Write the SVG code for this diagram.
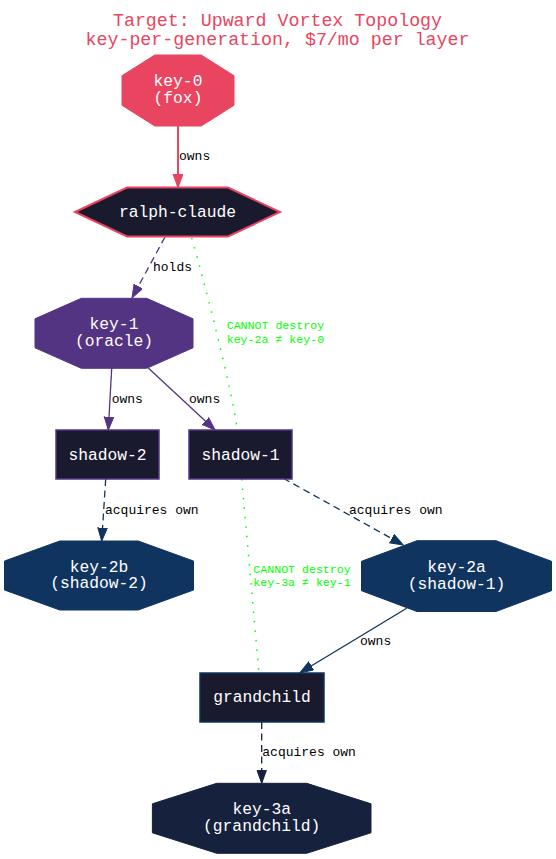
<svg xmlns="http://www.w3.org/2000/svg" width="556" height="859" viewBox="0 0 556 859">
<style>
.t{font-family:"Liberation Mono","DejaVu Sans Mono",monospace}
.title{font-size:18.3px;fill:#e94560;text-anchor:middle}
.nt{font-size:16.3px;fill:#ffffff;text-anchor:middle}
.el{font-size:13px;fill:#000000}
.gl{font-size:11.6px;fill:#00ff00}
.e{fill:none;stroke-width:1.3}
.dash{stroke-dasharray:7,4.5}
.dot{stroke:#00ff00;stroke-dasharray:1.5,8;stroke-width:1.5}
</style>
<defs>
<marker id="aR" markerUnits="userSpaceOnUse" markerWidth="16" markerHeight="12" refX="13.3" refY="5" orient="auto"><path d="M0.3,0.3 L13.3,5 L0.3,9.7 z" fill="#e94560" stroke="#e94560" stroke-width="1.5"/></marker>
<marker id="aP" markerUnits="userSpaceOnUse" markerWidth="16" markerHeight="12" refX="13.3" refY="5" orient="auto"><path d="M0.3,0.3 L13.3,5 L0.3,9.7 z" fill="#533483" stroke="#533483" stroke-width="1"/></marker>
<marker id="aN" markerUnits="userSpaceOnUse" markerWidth="16" markerHeight="12" refX="13.3" refY="5" orient="auto"><path d="M0.3,0.3 L13.3,5 L0.3,9.7 z" fill="#0f3460" stroke="#0f3460" stroke-width="1"/></marker>
<marker id="aD" markerUnits="userSpaceOnUse" markerWidth="16" markerHeight="12" refX="13.3" refY="5" orient="auto"><path d="M0.3,0.3 L13.3,5 L0.3,9.7 z" fill="#16213e" stroke="#16213e" stroke-width="1"/></marker>
</defs>
<rect width="556" height="859" fill="#ffffff"/>
<g id="title" class="t">
<text class="t title" x="277.5" y="26">Target: Upward Vortex Topology</text>
<text class="t title" x="277.5" y="45">key-per-generation, $7/mo per layer</text>
</g>
<g id="connectors">
<path class="e" d="M178,126 L178,187" stroke="#e94560" style="stroke-width:2" marker-end="url(#aR)"/>
<text class="t el" x="179" y="160">owns</text>
<path class="e dash" d="M165,237 L132,298" stroke="#533483" marker-end="url(#aP)"/>
<text class="t el" x="153" y="271">holds</text>
<path class="e dot" d="M191.7,238 C204,280 232,390 237.3,430"/>
<text class="t gl" x="226.7" y="328.5">CANNOT destroy</text>
<text class="t gl" x="226.7" y="343">key-2a ≠ key-0</text>
<path class="e" d="M111.7,368 L108.3,430" stroke="#533483" marker-end="url(#aP)"/>
<text class="t el" x="111.7" y="403">owns</text>
<path class="e" d="M148.3,368 L215,430" stroke="#533483" marker-end="url(#aP)"/>
<text class="t el" x="189" y="403">owns</text>
<path class="e dash" d="M105.7,479 L101.7,541" stroke="#0f3460" marker-end="url(#aN)"/>
<text class="t el" x="105" y="513.5">acquires own</text>
<path class="e dash" d="M283.3,478.3 L403.3,545" stroke="#0f3460" marker-end="url(#aN)"/>
<text class="t el" x="349" y="513.5">acquires own</text>
<path class="e dot" d="M241.7,479 L259,673"/>
<text class="t gl" x="253.3" y="572.5">CANNOT destroy</text>
<text class="t gl" x="253.3" y="586">key-3a ≠ key-1</text>
<path class="e" d="M406.7,608.3 L300,672.7" stroke="#0f3460" marker-end="url(#aN)"/>
<text class="t el" x="360" y="645">owns</text>
<path class="e dash" d="M261.7,722 L261.7,783.3" stroke="#16213e" marker-end="url(#aD)"/>
<text class="t el" x="262.3" y="756">acquires own</text>
</g>
<g id="key-0">
<polygon points="154.8,55 201.2,55 234,75.7 234,105.3 201.2,126 154.8,126 122,105.3 122,75.7" fill="#e94560" stroke="#e94560"/>
<text class="t nt" x="178" y="86.3">key-0</text>
<text class="t nt" x="178" y="103.3">(fox)</text>
</g>
<g id="ralph-claude">
<polygon points="75,212 127,187.5 228,187.5 280,212 228,236.5 127,236.5" fill="#1a1a2e" stroke="#e94560" stroke-width="2"/>
<text class="t nt" x="177.5" y="217">ralph-claude</text>
</g>
<g id="key-1">
<polygon points="81.3,298.3 146.7,298.3 193,318.8 193,347.8 146.7,368.3 81.3,368.3 35,347.8 35,318.8" fill="#533483" stroke="#533483"/>
<text class="t nt" x="114" y="329.3">key-1</text>
<text class="t nt" x="114" y="346">(oracle)</text>
</g>
<g id="shadow-2">
<rect x="56" y="430" width="103" height="49" fill="#1a1a2e" stroke="#533483" stroke-width="1.5"/>
<text class="t nt" x="107.5" y="459.5">shadow-2</text>
</g>
<g id="shadow-1">
<rect x="189" y="430" width="103" height="49" fill="#1a1a2e" stroke="#533483" stroke-width="1.5"/>
<text class="t nt" x="240.5" y="459.5">shadow-1</text>
</g>
<g id="key-2b">
<polygon points="59.8,541 138.2,541 193.5,561 193.5,590 138.2,610 59.8,610 4.5,590 4.5,561" fill="#0f3460" stroke="#0f3460"/>
<text class="t nt" x="99" y="571.5">key-2b</text>
<text class="t nt" x="99" y="588.3">(shadow-2)</text>
</g>
<g id="key-2a">
<polygon points="417,540.7 496,540.7 551.5,561.3 551.5,590.7 496,611.5 417,611.5 361.5,590.7 361.5,561.3" fill="#0f3460" stroke="#0f3460"/>
<text class="t nt" x="456.5" y="572">key-2a</text>
<text class="t nt" x="456.5" y="588.7">(shadow-1)</text>
</g>
<g id="grandchild">
<rect x="200" y="673" width="124" height="49" fill="#1a1a2e" stroke="#0f3460" stroke-width="1.5"/>
<text class="t nt" x="262" y="702.3">grandchild</text>
</g>
<g id="key-3a">
<polygon points="216.7,783.3 306.7,783.3 371,803.8 371,832.8 306.7,853.3 216.7,853.3 152.4,832.8 152.4,803.8" fill="#16213e" stroke="#16213e"/>
<text class="t nt" x="261.7" y="814.3">key-3a</text>
<text class="t nt" x="261.7" y="831">(grandchild)</text>
</g>
</svg>
